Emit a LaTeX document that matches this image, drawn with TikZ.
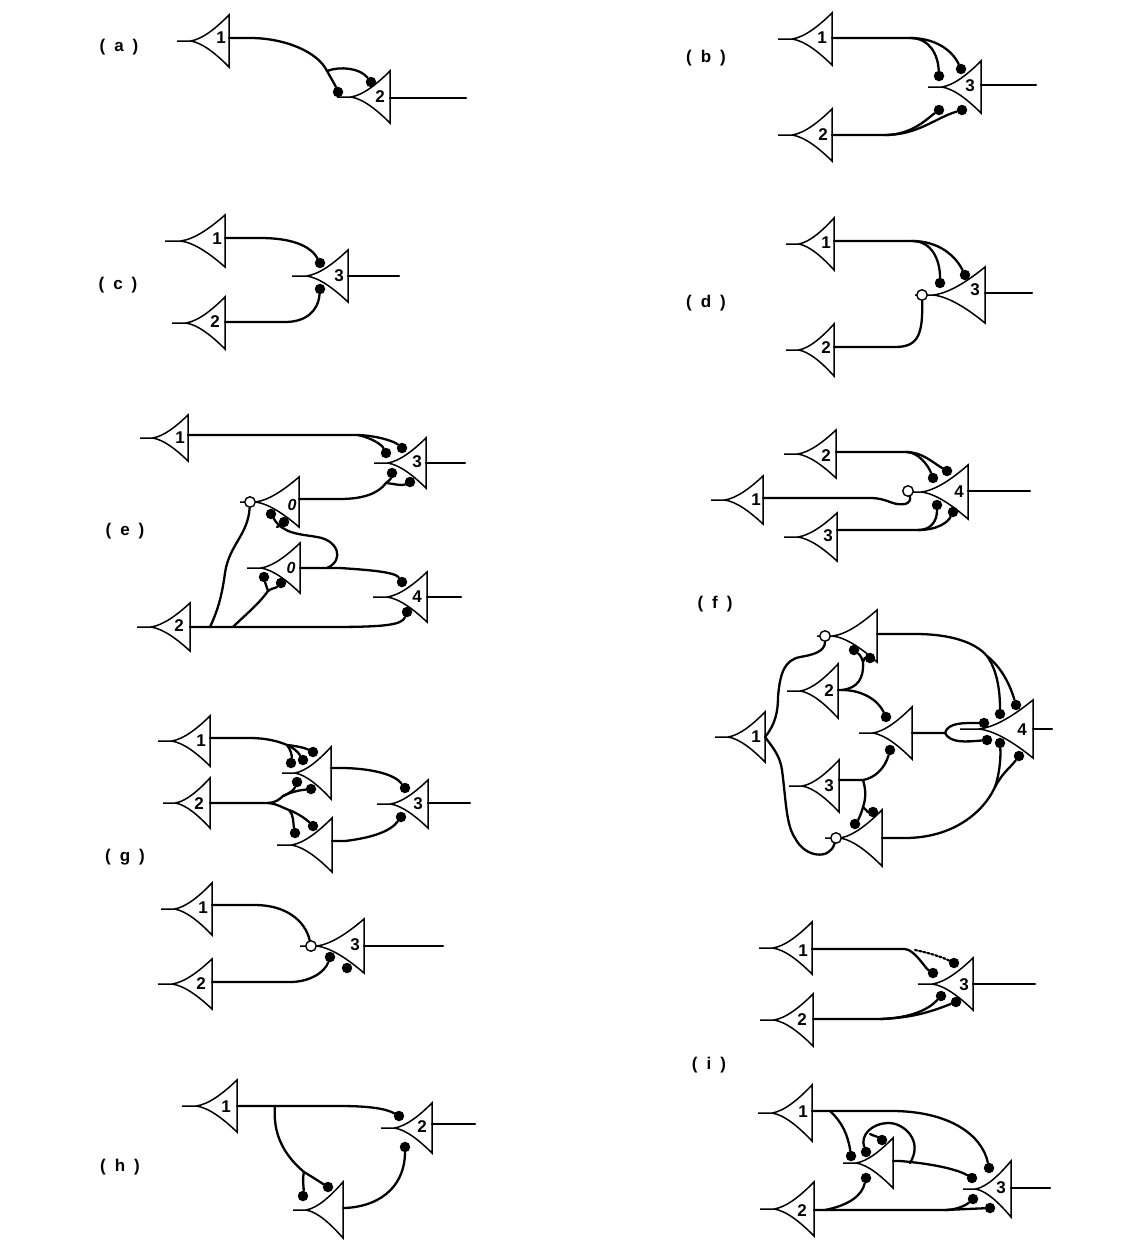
\documentclass[tikz,border=0pt]{standalone}
\usepackage{fontspec}
\setmainfont{Liberation Sans}
\tikzset{
  wire/.style={line width=2.3pt,line cap=round,line join=round},
  body/.style={line width=1.5pt,line join=miter},
  syn/.style={circle,fill=black,draw=none,minimum size=10.5pt,inner sep=0pt},
  holo/.style={circle,fill=white,draw=black,line width=1.4pt,minimum size=10.5pt,inner sep=0pt},
  num/.style={inner sep=0pt,font=\fontsize{17}{17}\selectfont\bfseries},
  onum/.style={inner sep=0pt,font=\fontsize{16}{16}\selectfont\bfseries\itshape},
  tag/.style={inner sep=0pt,font=\fontsize{17}{17}\selectfont\bfseries}
}
% id, base x, axis y, half height, tail end x
\newcommand{\neu}[5]{%
  \pgfmathsetmacro{\qL}{#2-#5}%
  \pgfmathsetmacro{\qT}{#5+0.26*\qL}%
  \pgfmathsetmacro{\qW}{#2-\qT}%
  \pgfmathsetmacro{\qA}{#2-0.32*\qW}%
  \pgfmathsetmacro{\qB}{#2-0.68*\qW}%
  \pgfmathsetmacro{\qTa}{#3-#4}\pgfmathsetmacro{\qBa}{#3+#4}%
  \pgfmathsetmacro{\qUa}{#3-0.52*#4}\pgfmathsetmacro{\qUb}{#3-0.07*#4}%
  \pgfmathsetmacro{\qDa}{#3+0.52*#4}\pgfmathsetmacro{\qDb}{#3+0.07*#4}%
  \draw[body] (#5,#3) -- (\qT,#3) .. controls (\qB,\qUb) and (\qA,\qUa) .. (#2,\qTa) -- (#2,\qBa)
     .. controls (\qA,\qDa) and (\qB,\qDb) .. (\qT,#3);
  \coordinate (#1) at (#2,#3);}
\newcommand{\lab}[4]{\node[num] (#1) at (#2,#3) {#4};}
\newcommand{\ilab}[4]{\node[onum] (#1) at (#2,#3) {#4};}
\newcommand{\dt}[3]{\node[syn] (#1) at (#2,#3) {};}
\newcommand{\hl}[3]{\node[holo] (#1) at (#2,#3) {};}
\newcommand{\jn}[3]{\coordinate (#1) at (#2,#3);}
\newcommand{\tg}[1]{(\hspace{9pt}#1\hspace{9pt})}
\begin{document}
\begin{tikzpicture}[x=1pt,y=-1pt]
\useasboundingbox (0,0) rectangle (1145,1258);
\fill[white] (0,0) rectangle (1145,1258);
% panel tags
\node[tag] (ta) at (119,47) {\tg{a}};
\node[tag] (tb) at (706,58) {\tg{b}};
\node[tag] (tc) at (118,285) {\tg{c}};
\node[tag] (td) at (706,303) {\tg{d}};
\node[tag] (te) at (125,531) {\tg{e}};
\node[tag] (tf) at (715,604) {\tg{f}};
\node[tag] (tg) at (125,857) {\tg{g}};
\node[tag] (th) at (120,1167) {\tg{h}};
\node[tag] (ti) at (709,1065) {\tg{i}};

% ---------- (a)
\neu{a1}{229}{41}{26}{177}\lab{a1l}{221}{38}{1}
\neu{a2}{390}{97}{26}{337}\lab{a2l}{380}{97}{2}
\dt{ad1}{338}{92}\dt{ad2}{371}{82}
\jn{aj1}{250}{38}\jn{aj2}{327}{71}\jn{ao}{466}{98}
\draw[wire] (a1 |- aj1) -- (aj1) .. controls (285,38) and (318,52) .. (aj2) .. controls (331,78) and (335,85) .. (ad1);
\draw[wire] (aj2) .. controls (340,66) and (360,68) .. (ad2);
\draw[wire] (a2 |- ao) -- (ao);

% ---------- (b)
\neu{b1}{832}{39}{26}{778}\lab{b1l}{822}{38}{1}
\neu{b2}{832}{135}{26}{778}\lab{b2l}{823}{135}{2}
\neu{b3}{981}{87}{26}{928}\lab{b3l}{970}{86}{3}
\dt{bd1}{939}{76}\dt{bd2}{961}{69}\dt{bd3}{939}{110}\dt{bd4}{962}{110}
\jn{bj1}{910}{38}\jn{bj2}{885}{135}\jn{bo}{1036}{85}
\draw[wire] (b1 |- bj1) -- (bj1) .. controls (930,38) and (938,55) .. (bd1);
\draw[wire] (bj1) .. controls (935,38) and (952,50) .. (bd2);
\draw[wire] (b2 |- bj2) -- (bj2) .. controls (912,135) and (928,118) .. (bd3);
\draw[wire] (bj2) .. controls (918,135) and (935,118) .. (bd4);
\draw[wire] (b3 |- bo) -- (bo);

% ---------- (c)
\neu{c1}{225}{241}{26}{165}\lab{c1l}{217}{239}{1}
\neu{c2}{225}{323}{26}{172}\lab{c2l}{215}{322}{2}
\neu{c3}{348}{276}{26}{292}\lab{c3l}{339}{276}{3}
\dt{cd1}{320}{263}\dt{cd2}{320}{289}
\jn{cj1}{260}{238}\jn{cj2}{285}{322}\jn{co}{399}{276}
\draw[wire] (c1 |- cj1) -- (cj1) .. controls (290,238) and (310,245) .. (cd1);
\draw[wire] (c2 |- cj2) -- (cj2) .. controls (305,322) and (318,312) .. (cd2);
\draw[wire] (c3 |- co) -- (co);

% ---------- (d)
\neu{d1}{834}{244}{26}{786}\lab{d1l}{826}{243}{1}
\neu{d2}{834}{350}{26}{786}\lab{d2l}{826}{348}{2}
\neu{d3}{985}{295}{28}{915}\lab{d3l}{975}{290}{3}
\hl{dh}{922}{295}\dt{dd1}{940}{283}\dt{dd2}{965}{275}
\jn{dj1}{912}{241}\jn{dj2}{895}{347}\jn{do}{1032}{293}
\draw[wire] (d1 |- dj1) -- (dj1) .. controls (932,241) and (940,260) .. (dd1);
\draw[wire] (dj1) .. controls (938,241) and (955,255) .. (dd2);
\draw[wire] (d2 |- dj2) -- (dj2) .. controls (918,347) and (923,335) .. (dh);
\draw[wire] (d3 |- do) -- (do);

% ---------- (e)
\neu{e1}{188}{438}{23}{140}\lab{e1l}{180}{438}{1}
\neu{e2}{190}{627}{24}{137}\lab{e2l}{179}{626}{2}
\neu{eb}{299}{502}{25}{240}\ilab{ebl}{292}{505}{0}
\neu{ea}{300}{568}{25}{247}\ilab{eal}{291}{568}{0}
\neu{e3}{426}{463}{25}{374}\lab{e3l}{417}{462}{3}
\neu{e4}{427}{597}{25}{373}\lab{e4l}{417}{597}{4}
\dt{ed1}{402}{448}\dt{ed2}{386}{453}\dt{ed3}{392}{473}\dt{ed4}{410}{482}
\hl{eh}{250}{502}\dt{ed5}{271}{514}\dt{ed6}{284}{522}
\dt{ed7}{264}{577}\dt{ed8}{281}{583}\dt{ed9}{402}{582}\dt{ed10}{407}{612}
\jn{ej1}{358}{435}\jn{ej2}{340}{499}\jn{ej3}{386}{483}
\jn{ej4}{327}{568}\jn{ej5}{277}{527}\jn{ej6}{210}{627}\jn{ej7}{233}{627}\jn{ej8}{268}{591}
\jn{eo3}{465}{463}\jn{eo4}{461}{597}
\draw[wire] (e1 |- ej1) -- (ej1) .. controls (380,436) and (395,442) .. (ed1);
\draw[wire] (ej1) .. controls (372,438) and (382,445) .. (ed2);
\draw[wire] (eb |- ej2) -- (ej2) .. controls (362,499) and (378,494) .. (ej3) .. controls (390,480) and (391,478) .. (ed3);
\draw[wire] (ej3) .. controls (395,484) and (402,486) .. (ed4);
\draw[wire] (ea) -- (ej4) .. controls (345,560) and (338,540) .. (317,537) .. controls (300,534) and (283,534) .. (ed5);
\draw[wire] (ej5) .. controls (279,526) and (281,525) .. (ed6);
\draw[wire] (ej4) -- (340,568) .. controls (370,570) and (395,572) .. (ed9);
\draw[wire] (e2) -- (ej7) -- (330,627) .. controls (385,627) and (402,625) .. (ed10);
\draw[wire] (ej6) .. controls (218,610) and (222,595) .. (225,573) .. controls (229,545) and (248,535) .. (eh);
\draw[wire] (ej7) .. controls (245,615) and (258,605) .. (ej8) .. controls (266,585) and (265,582) .. (ed7);
\draw[wire] (ej8) .. controls (272,588) and (276,588) .. (ed8);
\draw[wire] (e3) -- (eo3);\draw[wire] (e4) -- (eo4);

% ---------- (f) upper
\neu{f2}{836}{454}{24}{784}\lab{f2l}{826}{456}{2}
\neu{f1}{763}{500}{24}{711}\lab{f1l}{756}{500}{1}
\neu{f3}{837}{537}{24}{784}\lab{f3l}{828}{536}{3}
\neu{f4}{968}{492}{27}{905}\lab{f4l}{959}{492}{4}
\dt{fd1}{947}{471}\dt{fd2}{933}{478}\hl{fh}{908}{491}\dt{fd3}{937}{505}\dt{fd4}{953}{512}
\jn{fj1}{906}{452}\jn{fj2}{918}{530}\jn{fj3}{870}{498}\jn{fo}{1030}{491}
\draw[wire] (f2 |- fj1) -- (fj1) .. controls (922,452) and (932,462) .. (fd1);
\draw[wire] (fj1) .. controls (918,452) and (928,465) .. (fd2);
\draw[wire] (f1 |- fj3) -- (fj3) .. controls (888,498) and (892,506) .. (905,504) .. controls (909,503) and (911,500) .. (fh);
\draw[wire] (f3 |- fj2) -- (fj2) .. controls (932,530) and (937,520) .. (fd3);
\draw[wire] (fj2) .. controls (938,530) and (948,522) .. (fd4);
\draw[wire] (f4 |- fo) -- (fo);

% ---------- (f) lower
\neu{F1}{765}{737}{25}{715}\lab{F1l}{756}{737}{1}
\neu{F2}{838}{691}{27}{787}\lab{F2l}{829}{691}{2}
\neu{F3}{839}{786}{26}{789}\lab{F3l}{829}{786}{3}
\neu{Ft}{877}{636}{26}{817}
\neu{Fm}{912}{733}{26}{859}
\neu{Fb}{882}{838}{28}{825}
\neu{F4}{1033}{729}{29}{960}\lab{F4l}{1022}{730}{4}
\hl{Fh1}{825}{636}\dt{Fd1}{854}{650}\dt{Fd2}{870}{658}
\dt{Fd3}{886}{717}\dt{Fd4}{890}{750}
\dt{Fd5}{855}{824}\dt{Fd6}{873}{812}\hl{Fh2}{836}{838}
\dt{Fd7}{984}{723}\dt{Fd8}{987}{740}\dt{Fd9}{1000}{714}\dt{Fd10}{1016}{705}\dt{Fd11}{1000}{743}\dt{Fd12}{1019}{756}
\jn{Fj1}{842}{690}\jn{Fj2}{863}{662}\jn{Fj3}{863}{780}\jn{Fj4}{863}{807}
\jn{Fj5}{915}{634}\jn{Fj6}{987}{656}\jn{Fj7}{905}{838}\jn{Fj8}{995}{787}\jn{Fj9}{945}{733}\jn{Fo}{1052}{729}
\draw[wire] (F1) .. controls (775,725) and (778,712) .. (778,697) .. controls (780,672) and (785,660) .. (800,657) .. controls (812,655) and (825,652) .. (Fh1);
\draw[wire] (F1) .. controls (775,750) and (780,757) .. (782,770) .. controls (786,800) and (786,825) .. (795,838) .. controls (805,858) and (830,860) .. (Fh2);
\draw[wire] (F2 |- Fj1) -- (Fj1) .. controls (858,688) and (864,678) .. (Fj2) .. controls (862,658) and (860,655) .. (Fd1);
\draw[wire] (Fj2) .. controls (864,659) and (866,658) .. (Fd2);
\draw[wire] (Fj1) .. controls (862,690) and (878,700) .. (Fd3);
\draw[wire] (F3 |- Fj3) -- (Fj3) .. controls (875,778) and (885,768) .. (Fd4);
\draw[wire] (Fj3) .. controls (866,790) and (866,798) .. (Fj4) .. controls (861,815) and (858,820) .. (Fd5);
\draw[wire] (Fj4) .. controls (866,810) and (868,812) .. (Fd6);
\draw[wire] (Ft |- Fj5) -- (Fj5) .. controls (950,634) and (975,642) .. (Fj6) .. controls (997,670) and (1000,690) .. (Fd9);
\draw[wire] (Fj6) .. controls (1002,668) and (1010,685) .. (Fd10);
\draw[wire] (Fb) -- (Fj7) .. controls (950,838) and (982,815) .. (Fj8) .. controls (1003,772) and (1010,768) .. (Fd12);
\draw[wire] (Fj8) .. controls (999,775) and (1001,760) .. (Fd11);
\draw[wire] (Fm) -- (Fj9) .. controls (948,722) and (965,723) .. (Fd7);
\draw[wire] (Fj9) .. controls (950,743) and (965,742) .. (Fd8);
\draw[wire] (F4) -- (Fo);

% ---------- (g) upper
\neu{g1}{210}{741}{25}{158}\lab{g1l}{201}{741}{1}
\neu{g2}{210}{803}{25}{163}\lab{g2l}{199}{804}{2}
\neu{gt}{331}{773}{26}{282}
\neu{gb}{332}{845}{27}{277}
\neu{g3}{428}{804}{24}{377}\lab{g3l}{418}{804}{3}
\dt{gd1}{313}{752}\dt{gd2}{303}{760}\dt{gd3}{291}{763}\dt{gd4}{297}{782}\dt{gd5}{311}{789}
\dt{gd6}{295}{833}\dt{gd7}{313}{826}\dt{gd8}{405}{788}\dt{gd9}{401}{817}
\jn{gj1}{250}{738}\jn{gj2}{287}{745}\jn{gj3}{268}{803}\jn{gj4}{283}{796}\jn{gj5}{289}{810}\jn{gj7}{345}{768}\jn{gj8}{345}{841}\jn{go}{470}{803}
\draw[wire] (g1 |- gj1) -- (gj1) .. controls (265,738) and (278,741) .. (gj2) .. controls (297,746) and (305,748) .. (gd1);
\draw[wire] (gj2) .. controls (294,748) and (298,752) .. (gd2);
\draw[wire] (gj2) .. controls (291,750) and (292,756) .. (gd3);
\draw[wire] (g2 |- gj3) -- (gj3) .. controls (275,803) and (280,799) .. (gj4) .. controls (290,793) and (294,790) .. (gd4);
\draw[wire] (gj4) .. controls (293,791) and (302,790) .. (gd5);
\draw[wire] (gj3) .. controls (278,804) and (283,808) .. (gj5) .. controls (295,812) and (305,818) .. (gd7);
\draw[wire] (gj5) .. controls (294,815) and (293,823) .. (gd6);
\draw[wire] (gt |- gj7) -- (gj7) .. controls (375,769) and (395,775) .. (gd8);
\draw[wire] (gb |- gj8) -- (gj8) .. controls (370,838) and (390,832) .. (gd9);
\draw[wire] (g3 |- go) -- (go);

% ---------- (g) lower
\neu{G1}{212}{909}{26}{161}\lab{G1l}{203}{908}{1}
\neu{G2}{212}{984}{25}{158}\lab{G2l}{201}{984}{2}
\neu{G3}{364}{946}{27}{300}\lab{G3l}{355}{945}{3}
\hl{Gh}{311}{946}\dt{Gd1}{330}{957}\dt{Gd2}{347}{968}
\jn{Gj1}{255}{905}\jn{Gj2}{290}{982}\jn{Go}{443}{946}
\draw[wire] (G1 |- Gj1) -- (Gj1) .. controls (285,905) and (305,920) .. (Gh);
\draw[wire] (G2 |- Gj2) -- (Gj2) .. controls (310,982) and (325,972) .. (Gd1);
\draw[wire] (G3) -- (Go);

% ---------- (h)
\neu{h1}{237}{1106}{26}{182}\lab{h1l}{226}{1107}{1}
\neu{h2}{432}{1128}{25}{381}\lab{h2l}{422}{1127}{2}
\neu{hb}{343}{1210}{28}{293}
\dt{hd1}{399}{1116}\dt{hd2}{303}{1196}\dt{hd3}{328}{1187}\dt{hd4}{405}{1147}
\jn{hj1}{340}{1106}\jn{hj2}{275}{1106}\jn{hj3}{304}{1172}\jn{hj4}{345}{1208}\jn{ho}{475}{1124}
\draw[wire] (h1) -- (hj2) -- (hj1) .. controls (365,1106) and (385,1108) .. (hd1);
\draw[wire] (hj2) .. controls (272,1140) and (290,1160) .. (hj3) .. controls (314,1178) and (320,1182) .. (hd3);
\draw[wire] (hj3) .. controls (302,1180) and (304,1188) .. (hd2);
\draw[wire] (hb |- hj4) -- (hj4) .. controls (385,1206) and (405,1182) .. (hd4);
\draw[wire] (h2 |- ho) -- (ho);

% ---------- (i) upper
\neu{i1}{812}{948}{26}{759}\lab{i1l}{803}{951}{1}
\neu{i2}{813}{1020}{26}{760}\lab{i2l}{802}{1020}{2}
\neu{i3}{973}{984}{26}{918}\lab{i3l}{964}{985}{3}
\dt{id1}{954}{963}\dt{id2}{933}{973}\dt{id3}{941}{996}\dt{id4}{956}{1002}
\jn{ij1}{905}{949}\jn{ij2}{880}{1019}\jn{ij3}{915}{950}\jn{io}{1035}{984}
\draw[wire] (i1 |- ij1) -- (ij1) .. controls (915,950) and (925,968) .. (id2);
\draw[line width=2.2pt,dotted,line cap=round] (ij3) .. controls (925,952) and (940,956) .. (id1);
\draw[wire] (i2 |- ij2) -- (ij2) .. controls (910,1018) and (928,1010) .. (id3);
\draw[wire] (ij2) .. controls (915,1018) and (935,1010) .. (id4);
\draw[wire] (i3) -- (io);

% ---------- (i) lower
\neu{I1}{812}{1113}{28}{758}\lab{I1l}{803}{1112}{1}
\neu{I2}{814}{1209}{27}{760}\lab{I2l}{802}{1211}{2}
\neu{Im}{893}{1163}{25}{843}
\neu{I3}{1011}{1189}{28}{963}\lab{I3l}{1001}{1188}{3}
\dt{Id1}{989}{1168}\dt{Id2}{972}{1178}\dt{Id3}{973}{1199}\dt{Id4}{990}{1208}
\dt{Id5}{851}{1156}\dt{Id6}{866}{1152}\dt{Id7}{882}{1140}\dt{Id8}{866}{1178}
\jn{Ij1}{895}{1111}\jn{Ij2}{830}{1111}\jn{Ij3}{910}{1163}\jn{Ij4}{870}{1134}\jn{Ij5}{945}{1210}\jn{Ij6}{825}{1210}\jn{Ij7}{900}{1161}\jn{Io}{1050}{1188}
\draw[wire] (I1 |- Ij2) -- (Ij2) -- (Ij1) .. controls (950,1112) and (982,1135) .. (Id1);
\draw[wire] (Ij2) .. controls (842,1122) and (848,1135) .. (Id5);
\draw[wire] (Im |- Ij7) -- (Ij7) .. controls (925,1163) and (955,1168) .. (Id2);
\draw[wire] (Ij3) .. controls (924,1140) and (903,1123) .. (889,1123) .. controls (872,1123) and (860,1135) .. (Id6);
\draw[wire] (Ij4) .. controls (874,1136) and (876,1136) .. (Id7);
\draw[wire] (I2 |- Ij6) -- (Ij6) -- (Ij5) -- (Id4);
\draw[wire] (Ij5) .. controls (955,1210) and (965,1206) .. (Id3);
\draw[wire] (Ij6) .. controls (850,1205) and (862,1195) .. (Id8);
\draw[wire] (I3 |- Io) -- (Io);
\end{tikzpicture}
\end{document}
